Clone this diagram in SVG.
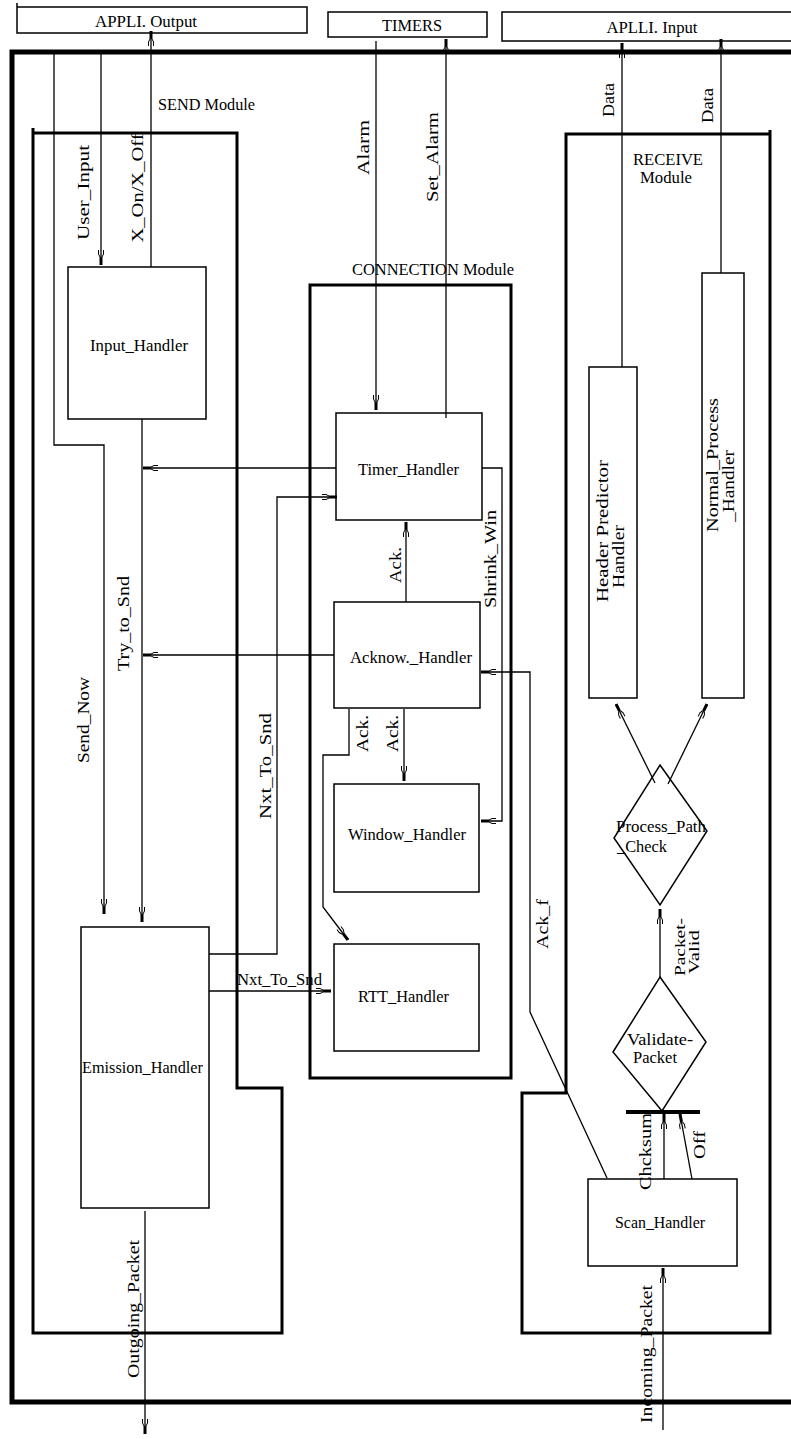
<svg xmlns="http://www.w3.org/2000/svg" width="791" height="1439" viewBox="0 0 791 1439">
<defs>
<style>
.t{font-family:"Liberation Serif","Times New Roman",serif;font-size:16px;fill:#000;text-anchor:middle}
.s{font-size:14px}
.box{fill:none;stroke:#000;stroke-width:1.5}
.frame{fill:none;stroke:#000;stroke-width:3}
.outer{fill:none;stroke:#000;stroke-width:5}
.c{fill:none;stroke:#000;stroke-width:1.3}
.ca{fill:none;stroke:#000;stroke-width:1.3;marker-end:url(#ah)}
</style>
<marker id="ah" markerUnits="userSpaceOnUse" markerWidth="16" markerHeight="10" viewBox="0 0 16 10" refX="16" refY="5" orient="auto">
<rect x="8" y="3.5" width="8" height="3" fill="#000"/>
<path d="M1 2.5 L5 2.5 L8 4 M1 7.5 L5 7.5 L8 6" fill="none" stroke="#000" stroke-width="1"/>
</marker>
</defs>
<rect x="0" y="0" width="791" height="1439" fill="#fff"/>

<g id="system-frame"><path class="outer" d="M795 52 H12 V1402 H795"/></g>

<g id="appli-output"><path class="box" d="M17 3 V33 H307 V7 H17"/><text class="t" x="146" y="27" textLength="102" lengthAdjust="spacingAndGlyphs">APPLI. Output</text></g>
<g id="timers"><rect class="box" x="328" y="12" width="159" height="25"/><text class="t" x="412" y="31" textLength="60" lengthAdjust="spacingAndGlyphs">TIMERS</text></g>
<g id="appli-input"><rect class="box" x="502" y="12" width="300" height="29"/><text class="t" x="652" y="33" textLength="91" lengthAdjust="spacingAndGlyphs">APLLI. Input</text></g>

<g id="send-module"><path class="frame" d="M33 128 V1333 H282 V1088 H237 V133 H33"/><text class="t" x="206.5" y="110" textLength="97" lengthAdjust="spacingAndGlyphs">SEND Module</text></g>
<g id="connection-module"><rect class="frame" x="310" y="285" width="201" height="793"/><text class="t" x="433" y="275" textLength="162" lengthAdjust="spacingAndGlyphs">CONNECTION Module</text></g>
<g id="receive-module"><path class="frame" d="M770 130 V1333 H522 V1093 H566 V134 H770"/><text class="t" x="668" y="165" textLength="70" lengthAdjust="spacingAndGlyphs">RECEIVE</text><text class="t" x="666" y="183" textLength="52" lengthAdjust="spacingAndGlyphs">Module</text></g>

<g id="input-handler"><rect class="box" x="68" y="267" width="138" height="152"/><text class="t" x="139" y="351" textLength="98" lengthAdjust="spacingAndGlyphs">Input_Handler</text></g>
<g id="emission-handler"><rect class="box" x="81" y="927" width="128" height="281"/><text class="t" x="142.5" y="1073" textLength="121" lengthAdjust="spacingAndGlyphs">Emission_Handler</text></g>
<g id="timer-handler"><rect class="box" x="336" y="413" width="146" height="107"/><text class="t" x="408.5" y="475" textLength="101" lengthAdjust="spacingAndGlyphs">Timer_Handler</text></g>
<g id="acknow-handler"><rect class="box" x="334" y="602" width="146" height="106"/><text class="t" x="411" y="663" textLength="122" lengthAdjust="spacingAndGlyphs">Acknow._Handler</text></g>
<g id="window-handler"><rect class="box" x="334" y="784" width="145" height="108"/><text class="t" x="407" y="840" textLength="118" lengthAdjust="spacingAndGlyphs">Window_Handler</text></g>
<g id="rtt-handler"><rect class="box" x="334" y="944" width="145" height="107"/><text class="t" x="403.5" y="1002" textLength="91" lengthAdjust="spacingAndGlyphs">RTT_Handler</text></g>
<g id="header-predictor-handler"><rect class="box" x="589" y="367" width="48" height="331"/><text class="t" transform="translate(608,531) rotate(-90)" textLength="142" lengthAdjust="spacingAndGlyphs">Header Predictor</text><text class="t" transform="translate(624,556.5) rotate(-90)" textLength="63" lengthAdjust="spacingAndGlyphs">Handler</text></g>
<g id="normal-process-handler"><rect class="box" x="702" y="273" width="42" height="425"/><text class="t" transform="translate(718,465) rotate(-90)" textLength="134" lengthAdjust="spacingAndGlyphs">Normal_Process</text><text class="t" transform="translate(734,486) rotate(-90)" textLength="72" lengthAdjust="spacingAndGlyphs">_Handler</text></g>
<g id="process-path-check"><path class="box" d="M660 765 L707 831 L660 905 L614 838 Z"/><text class="t" x="661" y="832" textLength="90" lengthAdjust="spacingAndGlyphs">Process_Path</text><text class="t" x="642" y="852" textLength="50" lengthAdjust="spacingAndGlyphs">_Check</text></g>
<g id="validate-packet"><path class="box" d="M660 977 L706 1042 L662 1111 L613 1052 Z"/><text class="t" x="660" y="1045" textLength="66" lengthAdjust="spacingAndGlyphs">Validate-</text><text class="t" x="655" y="1063" textLength="44" lengthAdjust="spacingAndGlyphs">Packet</text></g>
<g id="sync-bar"><line x1="626" y1="1112" x2="700" y2="1112" stroke="#000" stroke-width="4"/></g>
<g id="scan-handler"><rect class="box" x="588" y="1179" width="149" height="87"/><text class="t" x="660" y="1228" textLength="90" lengthAdjust="spacingAndGlyphs">Scan_Handler</text></g>

<g id="connectors">
<path class="ca" d="M54 52 V445 H104 V914"/>
<text class="t" transform="translate(89,720) rotate(-90)" textLength="86" lengthAdjust="spacingAndGlyphs">Send_Now</text>
<path class="ca" d="M101 52 V265"/>
<text class="t" transform="translate(89,192.5) rotate(-90)" textLength="95" lengthAdjust="spacingAndGlyphs">User_Input</text>
<path class="ca" d="M151 267 V31"/>
<text class="t" transform="translate(143,188) rotate(-90)" textLength="109" lengthAdjust="spacingAndGlyphs">X_On/X_Off</text>
<path class="ca" d="M142 419 V922"/>
<text class="t" transform="translate(129,623.5) rotate(-90)" textLength="95" lengthAdjust="spacingAndGlyphs">Try_to_Snd</text>
<path class="ca" d="M336 468 H143"/>
<path class="ca" d="M334 655 H143"/>
<path class="ca" d="M209 954 H277 V497 H337"/>
<text class="t" transform="translate(271,766) rotate(-90)" textLength="106" lengthAdjust="spacingAndGlyphs">Nxt_To_Snd</text>
<path class="ca" d="M209 991 H331"/>
<text class="t" x="279.5" y="985" textLength="85" lengthAdjust="spacingAndGlyphs">Nxt_To_Snd</text>
<path class="ca" d="M145 1211 V1434"/>
<text class="t" transform="translate(139,1309) rotate(-90)" textLength="138" lengthAdjust="spacingAndGlyphs">Outgoing_Packet</text>
<path class="ca" d="M376 41 V410"/>
<text class="t" transform="translate(369,147.5) rotate(-90)" textLength="55" lengthAdjust="spacingAndGlyphs">Alarm</text>
<path class="ca" d="M446 418 V39"/>
<text class="t" transform="translate(438,157) rotate(-90)" textLength="90" lengthAdjust="spacingAndGlyphs">Set_Alarm</text>
<path class="ca" d="M622 367 V43"/>
<text class="t" transform="translate(614,100) rotate(-90)" textLength="34" lengthAdjust="spacingAndGlyphs">Data</text>
<path class="ca" d="M721 273 V39"/>
<text class="t" transform="translate(713,105.5) rotate(-90)" textLength="35" lengthAdjust="spacingAndGlyphs">Data</text>
<path class="ca" d="M406 602 V522"/>
<text class="t" transform="translate(401,565) rotate(-90)" textLength="36" lengthAdjust="spacingAndGlyphs">Ack.</text>
<path class="ca" d="M482 468 H502 V821 H481"/>
<text class="t" transform="translate(496,559) rotate(-90)" textLength="98" lengthAdjust="spacingAndGlyphs">Shrink_Win</text>
<path class="ca" d="M607 1178 L530 1012 V672 H481"/>
<text class="t" transform="translate(548,924) rotate(-90)" textLength="50" lengthAdjust="spacingAndGlyphs">Ack_f</text>
<path class="ca" d="M404 709 V781"/>
<text class="t" transform="translate(398,733.5) rotate(-90)" textLength="37" lengthAdjust="spacingAndGlyphs">Ack.</text>
<path class="ca" d="M349 709 V755 H323 V907 L348 940"/>
<text class="t" transform="translate(368,733.5) rotate(-90)" textLength="37" lengthAdjust="spacingAndGlyphs">Ack.</text>
<path class="ca" d="M660 977 V909"/>
<text class="t s" transform="translate(685,947) rotate(-90)" textLength="58" lengthAdjust="spacingAndGlyphs">Packet-</text>
<text class="t s" transform="translate(699,952) rotate(-90)" textLength="44" lengthAdjust="spacingAndGlyphs">Valid</text>
<path class="ca" d="M655 783 L616 704"/>
<path class="ca" d="M668 784 L707 704"/>
<path class="ca" d="M664 1179 V1114"/>
<text class="t" transform="translate(651,1151.5) rotate(-90)" textLength="77" lengthAdjust="spacingAndGlyphs">Chcksum</text>
<path class="ca" d="M692 1179 L680 1114"/>
<text class="t" transform="translate(705,1145) rotate(-90)" textLength="28" lengthAdjust="spacingAndGlyphs">Off</text>
<path class="ca" d="M663 1430 V1268"/>
<text class="t" transform="translate(652,1354) rotate(-90)" textLength="138" lengthAdjust="spacingAndGlyphs">Incoming_Packet</text>
</g>
</svg>
